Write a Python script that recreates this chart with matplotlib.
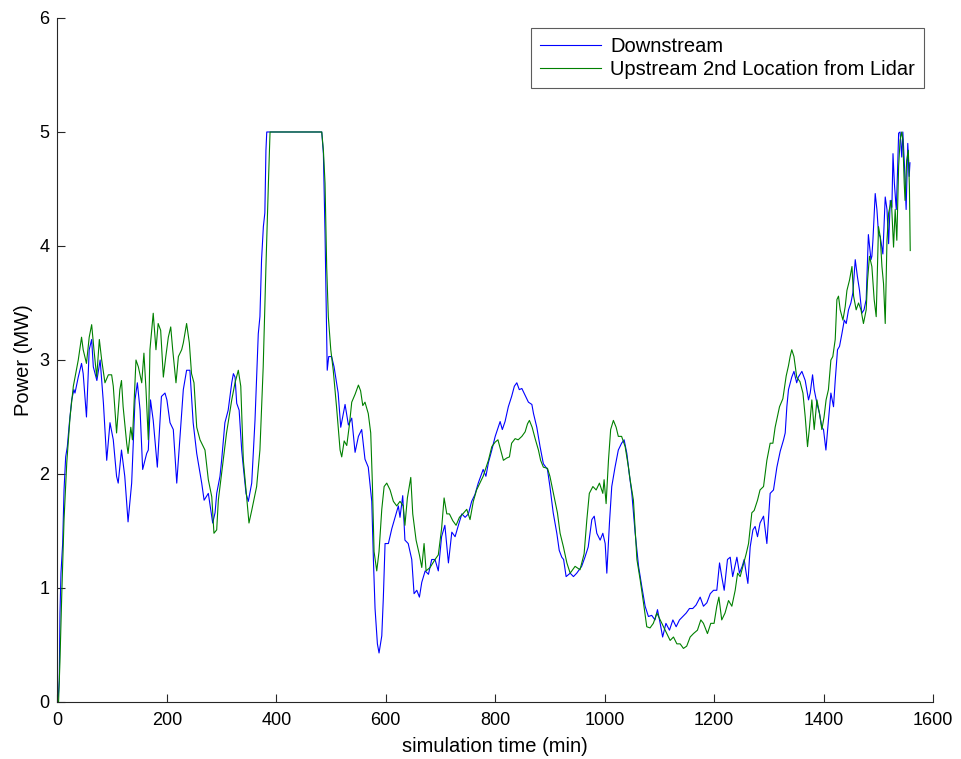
import matplotlib
matplotlib.use('Agg')
import matplotlib.pyplot as plt

plt.rcParams['font.family'] = ['Liberation Sans', 'DejaVu Sans']

# downstream turbine power (MW) against simulation time (min)
t_down = [0, 1.5, 3.3, 4.6, 6.4, 9.5, 12, 15, 18, 21.6, 26, 30, 32, 38, 44, 47, 53, 58, 62.5, 65.5,
          72, 78, 84, 90, 96, 102, 108, 111, 117, 123, 129, 135.6, 141.7, 146, 151, 155.7, 163, 166, 170, 175,
          182.5, 190, 196.5, 200, 205.7, 211.7, 218, 224, 230, 236, 242, 248, 254.5, 263.6, 268, 275.7, 283.7, 288, 291, 297,
          300, 306, 312, 318.5, 321.5, 324.5, 327.6, 332, 336.7, 339.7, 344.6, 348.8, 355, 361, 367, 370, 373, 376.3, 379, 381,
          382.5, 400, 430, 460, 483, 486, 489, 491, 492, 493, 495.7, 501, 505.5, 513, 517.7, 525.6, 531.7, 537.8, 543.9, 550,
          556, 562, 568, 574.4, 577.4, 580.4, 584.7, 587.7, 592.7, 595.6, 598.7, 604.8, 611, 617, 623, 626, 631, 635, 641, 647.5,
          651.7, 656.7, 661.5, 665.8, 672, 678, 684, 690, 696, 702, 708, 714.5, 720.7, 726.7, 732.7, 739, 745, 751, 757, 763,
          769, 778, 783, 787.6, 793.8, 800, 809, 813, 818, 824, 830, 835, 839.5, 844, 848.7, 854.7, 860.7, 867, 870, 876,
          882, 888, 895.5, 900, 906, 912.6, 917, 921.7, 925, 929.6, 937, 943, 949, 958, 964, 970, 976.6, 981, 985.7, 991.8,
          996.7, 1001, 1004, 1008.8, 1013, 1019, 1025, 1031, 1035.6, 1040.6, 1045, 1049.7, 1055.8, 1062, 1068, 1074, 1080, 1086, 1092, 1096.6,
          1101.5, 1106, 1112, 1118.5, 1124.7, 1130.7, 1136.8, 1143, 1149, 1155, 1161, 1167, 1174.6, 1180.6, 1186.8, 1193, 1199, 1205, 1210, 1214,
          1218.5, 1224.5, 1229.5, 1234, 1241.7, 1246.4, 1251.4, 1255, 1258.7, 1261.8, 1266, 1271, 1275, 1279.4, 1284, 1290.4, 1296.5, 1302.5, 1308.6, 1314.8,
          1320.9, 1327, 1330, 1333, 1336, 1342, 1346, 1351, 1354, 1360.5, 1366.6, 1372.6, 1375.7, 1380, 1383, 1388, 1392.7, 1397, 1400, 1404.4,
          1409, 1413.5, 1418.3, 1421.4, 1425.6, 1429.3, 1433.6, 1438, 1441.5, 1445.7, 1450, 1453.7, 1458, 1462, 1465.8, 1470, 1474, 1478, 1482, 1486.7,
          1488.4, 1490.3, 1494.5, 1497.6, 1500.5, 1503.7, 1508.5, 1512.8, 1516, 1519, 1522, 1525, 1527, 1529.5, 1533, 1535.4, 1537.3, 1540, 1543, 1545,
          1548, 1551, 1554, 1556.6, 1558]
p_down = [0.02, 0.05, 0.19, 0.78, 1.13, 1.39, 1.86, 2.15, 2.24, 2.44, 2.65, 2.74, 2.71, 2.85, 2.97, 2.88, 2.50, 3.09, 3.18, 2.94,
          2.82, 3.00, 2.62, 2.12, 2.45, 2.30, 1.98, 1.92, 2.21, 1.98, 1.58, 1.92, 2.65, 2.80, 2.56, 2.04, 2.18, 2.21, 2.65, 2.47,
          2.06, 2.68, 2.71, 2.65, 2.45, 2.39, 1.92, 2.33, 2.74, 2.91, 2.91, 2.45, 2.18, 1.92, 1.77, 1.83, 1.57, 1.66, 1.83, 1.98,
          2.12, 2.45, 2.56, 2.80, 2.88, 2.85, 2.62, 2.56, 2.21, 2.06, 1.83, 1.76, 1.92, 2.47, 3.23, 3.38, 3.88, 4.17, 4.29, 4.84,
          5.0, 5.0, 5.0, 5.0, 5.0, 4.81, 4.11, 3.53, 3.23, 2.91, 3.03, 3.03, 2.94, 2.71, 2.41, 2.61, 2.43, 2.49, 2.19, 2.33,
          2.39, 2.13, 2.06, 1.76, 1.25, 0.82, 0.51, 0.43, 0.58, 0.92, 1.39, 1.39, 1.52, 1.62, 1.72, 1.62, 1.81, 1.42, 1.39, 1.25,
          0.95, 0.98, 0.92, 1.05, 1.15, 1.12, 1.25, 1.25, 1.15, 1.45, 1.55, 1.22, 1.49, 1.45, 1.55, 1.65, 1.62, 1.65, 1.76, 1.82,
          1.92, 2.04, 1.98, 2.10, 2.21, 2.33, 2.46, 2.39, 2.46, 2.59, 2.68, 2.77, 2.80, 2.74, 2.75, 2.69, 2.63, 2.61, 2.53, 2.41,
          2.24, 2.09, 2.04, 1.89, 1.66, 1.48, 1.33, 1.27, 1.25, 1.10, 1.13, 1.10, 1.13, 1.19, 1.27, 1.36, 1.60, 1.63, 1.48, 1.42,
          1.48, 1.39, 1.13, 1.57, 1.89, 2.06, 2.21, 2.27, 2.30, 2.18, 2.00, 1.83, 1.48, 1.19, 1.01, 0.84, 0.75, 0.76, 0.72, 0.81,
          0.69, 0.57, 0.69, 0.63, 0.72, 0.66, 0.72, 0.75, 0.78, 0.82, 0.82, 0.85, 0.92, 0.84, 0.87, 0.95, 0.98, 0.98, 1.22, 1.10,
          0.98, 1.25, 1.27, 1.10, 1.27, 1.13, 1.19, 1.25, 1.13, 1.04, 1.36, 1.51, 1.54, 1.45, 1.57, 1.63, 1.39, 1.83, 1.86, 2.06,
          2.20, 2.30, 2.36, 2.59, 2.74, 2.85, 2.90, 2.80, 2.85, 2.90, 2.82, 2.65, 2.71, 2.87, 2.74, 2.62, 2.53, 2.41, 2.39, 2.21,
          2.47, 2.71, 2.59, 2.82, 3.09, 3.12, 3.23, 3.35, 3.32, 3.44, 3.50, 3.59, 3.88, 3.73, 3.61, 3.41, 3.44, 3.53, 4.10, 3.88,
          3.91, 4.05, 4.46, 4.32, 4.11, 4.08, 3.93, 4.43, 4.32, 4.02, 4.40, 4.34, 4.81, 4.55, 4.32, 4.67, 4.99, 5.0, 4.78, 5.0,
          4.70, 4.32, 4.90, 4.61, 4.73]

# upstream power estimated from the 2nd lidar range gate
t_up = [0, 2, 4.5, 7.7, 12, 17, 23, 29, 38, 44, 47, 53, 58, 62.5, 66.7, 71.7, 76.5, 80.8, 86.8, 93,
        99, 102, 108, 114, 117, 120, 126.5, 129, 134, 137, 143.5, 147.8, 154, 158, 161.8, 166, 169, 175, 180, 184,
        188.6, 193.5, 198, 202.6, 207, 210.6, 216.6, 221, 227, 230, 236, 241, 245, 249.5, 254.5, 260.5, 269.6, 275.7, 282, 286,
        291, 294, 303, 309, 318.5, 324.5, 330.5, 335, 339.7, 344.6, 350, 355, 364, 370, 376, 381, 385.5, 388.5, 420, 450,
        483, 486, 489, 492, 495, 499.5, 504, 510, 516.5, 519.5, 524, 528.7, 533.5, 537.8, 544, 550, 554, 558, 562, 568,
        572.5, 575.5, 578.6, 583.5, 587.7, 592.7, 597, 601.8, 607.9, 613.9, 620, 626, 632, 635, 639.5, 645.7, 649.3, 655.4, 661.5, 665.8,
        670, 673.7, 681, 690, 696, 702, 706.6, 711.5, 716.3, 722.5, 728.5, 734.6, 740.8, 748, 754, 760, 766, 778, 787.6, 793.8,
        800, 805, 810, 815, 821, 826, 830, 836.4, 842, 848.7, 854.7, 859, 862.5, 867.5, 873, 879, 883, 888, 895.5, 900,
        906.4, 913.7, 918.6, 924.7, 931, 937, 946, 955, 962.5, 967.5, 972, 978.5, 984.5, 990.5, 996.7, 999, 1002.7, 1007, 1011, 1016,
        1021, 1025, 1031, 1037.5, 1043.5, 1046.6, 1052.6, 1059, 1065, 1071, 1077, 1083, 1089, 1095.5, 1101.5, 1107.5, 1113.7, 1119.7, 1125.8, 1132,
        1138, 1144, 1150, 1156.3, 1162.3, 1169.6, 1175.8, 1180.6, 1187.9, 1194, 1200, 1205, 1208.8, 1214, 1220, 1226.4, 1232.5, 1238.6, 1243, 1247.7,
        1252.6, 1258.7, 1263, 1269, 1273.3, 1279.4, 1284, 1290.4, 1296.5, 1302.5, 1307.5, 1311.6, 1319.6, 1325.7, 1331.8, 1336, 1339, 1342, 1346, 1351,
        1357, 1362.4, 1366.6, 1370.8, 1374.4, 1378.7, 1383, 1388, 1392.7, 1397, 1401, 1404.7, 1409, 1413.5, 1417, 1421.4, 1424.5, 1427.4, 1430.5, 1435.5,
        1439.7, 1442.8, 1447.5, 1452, 1455, 1459.7, 1464, 1468.5, 1473, 1478, 1480.5, 1484, 1488.4, 1492.6, 1496.3, 1500.5, 1503.7, 1506.8, 1509.7, 1512.8,
        1516, 1519, 1524, 1528, 1531, 1534, 1537.3, 1540, 1543, 1545, 1547.5, 1549, 1552, 1555, 1557, 1558.5]
p_up = [0.0, 0.0, 0.35, 0.92, 1.60, 2.10, 2.50, 2.77, 3.00, 3.20, 3.09, 2.97, 3.20, 3.31, 3.09, 2.85, 3.18, 3.00, 2.80, 2.87,
        2.87, 2.77, 2.36, 2.74, 2.82, 2.59, 2.27, 2.18, 2.41, 2.30, 3.00, 2.94, 2.80, 3.06, 2.74, 2.30, 3.09, 3.41, 3.09, 3.32,
        3.26, 2.85, 3.03, 3.20, 3.29, 3.09, 2.80, 3.03, 3.09, 3.15, 3.32, 3.15, 2.88, 2.80, 2.41, 2.30, 2.21, 1.95, 1.80, 1.48,
        1.51, 1.77, 2.12, 2.36, 2.65, 2.80, 2.91, 2.77, 2.12, 1.86, 1.57, 1.68, 1.89, 2.21, 2.94, 3.82, 4.55, 5.0, 5.0, 5.0,
        5.0, 4.84, 4.55, 3.82, 3.38, 3.09, 2.91, 2.59, 2.21, 2.15, 2.29, 2.25, 2.43, 2.63, 2.70, 2.78, 2.73, 2.60, 2.63, 2.53,
        2.36, 1.92, 1.32, 1.15, 1.32, 1.69, 1.89, 1.92, 1.86, 1.76, 1.72, 1.76, 1.72, 1.55, 1.79, 1.97, 1.65, 1.42, 1.29, 1.18,
        1.39, 1.15, 1.18, 1.25, 1.29, 1.52, 1.79, 1.65, 1.65, 1.59, 1.55, 1.62, 1.65, 1.69, 1.60, 1.76, 1.86, 1.98, 2.12, 2.24,
        2.28, 2.30, 2.21, 2.12, 2.14, 2.15, 2.27, 2.31, 2.30, 2.33, 2.37, 2.44, 2.47, 2.41, 2.31, 2.21, 2.12, 2.06, 2.05, 1.98,
        1.83, 1.66, 1.48, 1.36, 1.22, 1.13, 1.19, 1.16, 1.30, 1.60, 1.83, 1.89, 1.86, 1.92, 1.83, 1.95, 1.74, 2.12, 2.39, 2.47,
        2.41, 2.33, 2.33, 2.24, 2.06, 1.95, 1.77, 1.25, 1.07, 0.87, 0.66, 0.65, 0.69, 0.78, 0.72, 0.66, 0.60, 0.54, 0.57, 0.51,
        0.51, 0.47, 0.49, 0.57, 0.60, 0.63, 0.72, 0.69, 0.60, 0.69, 0.69, 0.84, 0.92, 0.72, 0.78, 0.89, 0.84, 0.98, 1.13, 1.10,
        1.19, 1.30, 1.39, 1.66, 1.68, 1.77, 1.86, 1.89, 2.12, 2.27, 2.27, 2.41, 2.59, 2.66, 2.86, 2.95, 3.03, 3.09, 3.03, 2.85,
        2.81, 2.71, 2.50, 2.24, 2.41, 2.65, 2.39, 2.65, 2.53, 2.39, 2.50, 2.65, 2.74, 3.00, 3.03, 3.18, 3.53, 3.56, 3.44, 3.35,
        3.47, 3.61, 3.70, 3.82, 3.56, 3.44, 3.50, 3.44, 3.32, 3.44, 3.70, 3.91, 3.82, 3.53, 3.38, 4.17, 4.08, 3.82, 3.67, 3.32,
        4.05, 4.29, 4.40, 3.99, 4.32, 4.05, 4.70, 4.93, 5.0, 4.93, 4.55, 4.40, 4.75, 4.84, 4.52, 3.96]

fig = plt.figure(figsize=(9.61, 7.59), dpi=100)
ax = fig.add_axes([0.0598, 0.0751, 0.911, 0.9012])

ax.plot(t_down, p_down, color=(0, 0, 1), linewidth=0.8, label='Downstream')
ax.plot(t_up, p_up, color=(0, 0.5, 0), linewidth=0.8, label='Upstream 2nd Location from Lidar')

ax.set_xlim(0, 1600)
ax.set_ylim(0, 6)
ax.set_xticks(range(0, 1601, 200))
ax.set_yticks(range(0, 7))
ax.set_xlabel('simulation time (min)', fontsize=14.5, labelpad=6)
ax.set_ylabel('Power (MW)', fontsize=14.5, labelpad=4)

ax.spines['top'].set_visible(False)
ax.spines['right'].set_visible(False)
for side in ['left', 'bottom']:
    ax.spines[side].set_color('#262626')
    ax.spines[side].set_linewidth(0.8)
ax.tick_params(direction='in', length=6, width=0.8, labelsize=13, colors='#262626', labelcolor='black')
ax.tick_params(axis='x', pad=7)
ax.tick_params(axis='y', pad=6)

leg = ax.legend(loc='upper right', bbox_to_anchor=(0.99, 0.986), borderaxespad=0,
                fancybox=False, fontsize=14.5, handlelength=3.05, handletextpad=0.45,
                borderpad=0.45, labelspacing=0.2)
leg.get_frame().set_edgecolor('#333333')
leg.get_frame().set_linewidth(0.8)

fig.savefig('out.png', dpi=100)
